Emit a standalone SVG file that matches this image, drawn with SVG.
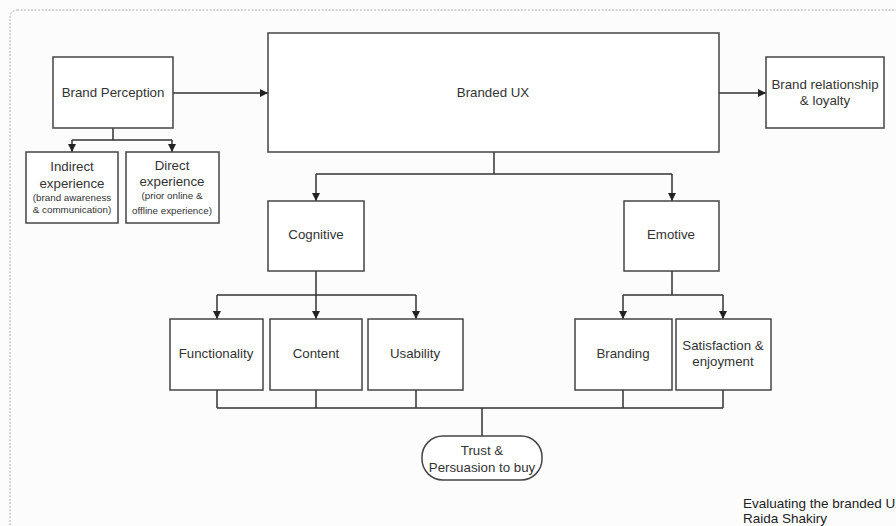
<svg xmlns="http://www.w3.org/2000/svg" width="896" height="526" viewBox="0 0 896 526">
<defs>
<marker id="ah" viewBox="0 0 10 10" refX="10" refY="5" markerWidth="8" markerHeight="8" markerUnits="userSpaceOnUse" orient="auto">
<path d="M0,0 L10,5 L0,10 z" fill="#222"/>
</marker>
<style>
.box{fill:#fff;stroke:#444;stroke-width:1.5}
.t{font-family:"Liberation Sans",Arial,sans-serif;font-size:13.3px;fill:#333;text-anchor:middle}
.s{font-family:"Liberation Sans",Arial,sans-serif;font-size:9.8px;fill:#333;text-anchor:middle}
.c{fill:none;stroke:#333;stroke-width:1.5}
.a{fill:none;stroke:#333;stroke-width:1.5;marker-end:url(#ah)}
.f{font-family:"Liberation Sans",Arial,sans-serif;font-size:13.5px;fill:#222}
</style>
</defs>
<rect width="896" height="526" fill="#fcfcfc"/>
<rect x="10" y="10" width="900" height="540" rx="7" fill="none" stroke="#aaa" stroke-width="1" stroke-dasharray="2,1.5"/>
<g id="connectors">
<path class="a" d="M173,93 H268"/>
<path class="a" d="M719,93 H766"/>
<path class="c" d="M113,128 V140 M72,140 H172"/>
<path class="a" d="M72,140 V152"/>
<path class="a" d="M172,140 V152"/>
<path class="c" d="M494,152 V174 M316,174 H672"/>
<path class="a" d="M316,174 V201"/>
<path class="a" d="M672,174 V201"/>
<path class="c" d="M316,271 V295 M217,295 H416"/>
<path class="a" d="M217,295 V319"/>
<path class="a" d="M316,295 V319"/>
<path class="a" d="M416,295 V319"/>
<path class="c" d="M672,271 V295 M623,295 H723"/>
<path class="a" d="M623,295 V319"/>
<path class="a" d="M723,295 V319"/>
<path class="c" d="M217,390 V408 M316,390 V408 M416,390 V408 M623,390 V408 M723,390 V408 M217,408 H723"/>
<path class="c" d="M482,408 V436"/>
</g>
<g id="brand-perception"><rect class="box" x="53" y="57" width="120" height="71"/><text class="t" x="113" y="97">Brand Perception</text></g>
<g id="branded-ux"><rect class="box" x="268" y="33" width="451" height="119"/><text class="t" x="493" y="97">Branded UX</text></g>
<g id="brand-relationship"><rect class="box" x="766" y="57" width="118" height="71"/><text class="t" x="825" y="89">Brand relationship</text><text class="t" x="825" y="105">&amp; loyalty</text></g>
<g id="indirect"><rect class="box" x="26" y="152" width="92" height="71"/><text class="t" x="72" y="171">Indirect</text><text class="t" x="72" y="188">experience</text><text class="s" x="72" y="201">(brand awareness</text><text class="s" x="72" y="213">&amp; communication)</text></g>
<g id="direct"><rect class="box" x="126" y="152" width="93" height="71"/><text class="t" x="172" y="170">Direct</text><text class="t" x="172" y="186">experience</text><text class="s" x="172" y="199">(prior online &amp;</text><text class="s" x="172" y="214">offline experience)</text></g>
<g id="cognitive"><rect class="box" x="268" y="201" width="96" height="70"/><text class="t" x="316" y="239">Cognitive</text></g>
<g id="emotive"><rect class="box" x="624" y="201" width="95" height="70"/><text class="t" x="671" y="239">Emotive</text></g>
<g id="functionality"><rect class="box" x="170" y="319" width="93" height="71"/><text class="t" x="216" y="358">Functionality</text></g>
<g id="content"><rect class="box" x="270" y="319" width="92" height="71"/><text class="t" x="316" y="358">Content</text></g>
<g id="usability"><rect class="box" x="368" y="319" width="95" height="71"/><text class="t" x="415" y="358">Usability</text></g>
<g id="branding"><rect class="box" x="575" y="319" width="97" height="71"/><text class="t" x="623" y="358">Branding</text></g>
<g id="satisfaction"><rect class="box" x="676" y="319" width="95" height="71"/><text class="t" x="723" y="350">Satisfaction &amp;</text><text class="t" x="723" y="366">enjoyment</text></g>
<g id="trust"><rect class="box" x="422" y="436" width="120" height="44" rx="21"/><text class="t" x="482" y="455">Trust &amp;</text><text class="t" x="482" y="472">Persuasion to buy</text></g>
<g id="footer"><text class="f" x="743" y="508">Evaluating the branded UX</text><text class="f" x="743" y="523">Raida Shakiry</text></g>
</svg>
